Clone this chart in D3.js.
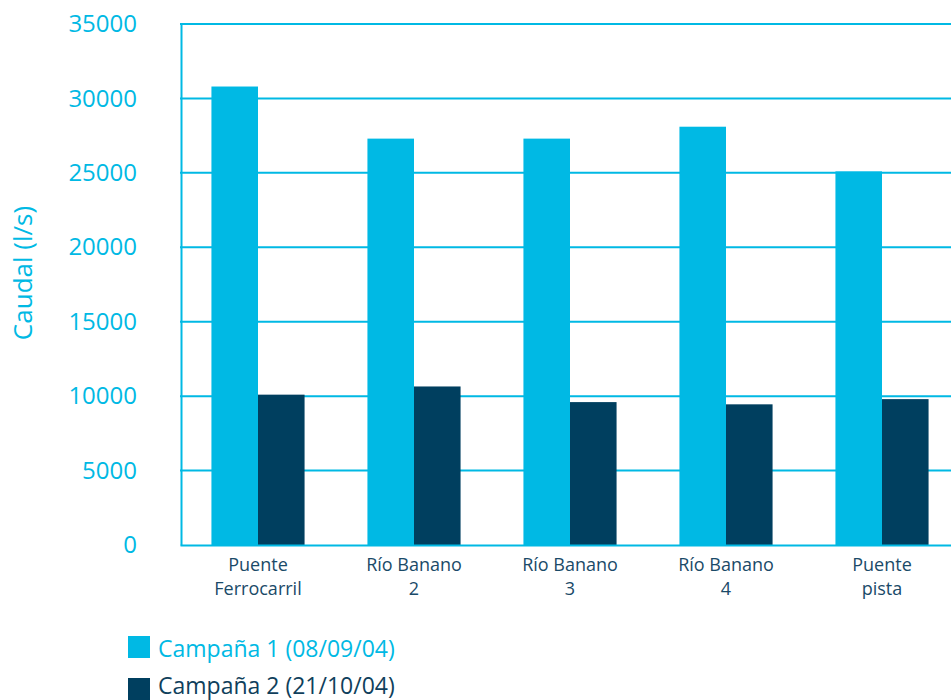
<!DOCTYPE html>
<html><head><meta charset="utf-8">
<script src="https://cdn.jsdelivr.net/npm/d3@7"></script>
<style>body{margin:0;background:#fff;overflow:hidden}</style>
</head><body>
<script>
const categories = [["Puente","Ferrocarril"],["Río Banano","2"],["Río Banano","3"],["Río Banano","4"],["Puente","pista"]];
const campana1 = [30800, 27300, 27300, 28100, 25100];
const campana2 = [10100, 10650, 9600, 9450, 9800];
const seriesNames = ["Campaña 1 (08/09/04)", "Campaña 2 (21/10/04)"];
const yTicks = [0,5000,10000,15000,20000,25000,30000,35000];

const light = "#00B9E4", dark = "#003F5F", textDark = "#1A4A68";
const W = 951, H = 700;
const svg = d3.select("body").append("svg").attr("width", W).attr("height", H);
const font = "'Open Sans', sans-serif";

const x = d3.scaleBand().domain(d3.range(categories.length)).range([180, 960]);
const inner = d3.scaleBand().domain([0,1]).range([0, x.bandwidth()]).paddingInner(0).paddingOuter(0.675);
const y = d3.scaleLinear().domain([0, 35000]).range([545, 24]);

// gridlines
svg.append("g").selectAll("line").data(yTicks.filter(t => t > 0)).join("line")
  .attr("x1", 180).attr("x2", 960).attr("y1", d => y(d)).attr("y2", d => y(d))
  .attr("stroke", light).attr("stroke-width", 2);

// bars
const data = categories.map((c, i) => [campana1[i], campana2[i]]);
const g = svg.append("g");
data.forEach((vals, i) => {
  vals.forEach((v, s) => {
    g.append("rect")
      .attr("x", x(i) + inner(s)).attr("width", inner.bandwidth())
      .attr("y", y(v)).attr("height", y(0) - y(v))
      .attr("fill", s === 0 ? light : dark);
  });
});

// axes
const yAxis = d3.axisLeft(y).tickValues(yTicks).tickSize(0).tickPadding(44).tickFormat(d3.format("d"));
const ya = svg.append("g").attr("transform", "translate(181,0)").call(yAxis);
ya.select(".domain").attr("stroke", light).attr("stroke-width", 2);
ya.selectAll("text").attr("fill", light).attr("font-size", 24).attr("font-family", font);

const xAxis = d3.axisBottom(x).tickSize(0).tickFormat("");
const xa = svg.append("g").attr("transform", "translate(0,545)").call(xAxis);
xa.select(".domain").attr("stroke", light).attr("stroke-width", 2);

// category labels
svg.append("g").selectAll("text").data(categories).join("text")
  .attr("x", (d, i) => x(i) + x.bandwidth() / 2)
  .attr("y", 571)
  .attr("text-anchor", "middle").attr("fill", textDark)
  .attr("font-size", 18).attr("font-family", font)
  .each(function(d) {
    d3.select(this).selectAll("tspan").data(d).join("tspan")
      .attr("x", d3.select(this).attr("x"))
      .attr("dy", (t, j) => j === 0 ? 0 : 24)
      .text(t => t);
  });

// y title
svg.append("text").attr("transform", "translate(32,273) rotate(-90)")
  .attr("text-anchor", "middle").attr("fill", light)
  .attr("font-size", 26).attr("font-family", font).text("Caudal (l/s)");

// legend
const leg = svg.append("g");
seriesNames.forEach((n, i) => {
  leg.append("rect").attr("x", 128).attr("y", 636 + i * 42).attr("width", 22).attr("height", 22)
    .attr("fill", i === 0 ? light : dark);
  leg.append("text").attr("x", 158).attr("y", 657 + i * 37)
    .attr("fill", i === 0 ? light : "#0F3F5C")
    .attr("font-size", 23).attr("font-family", font).text(n);
});
</script>
</body></html>
